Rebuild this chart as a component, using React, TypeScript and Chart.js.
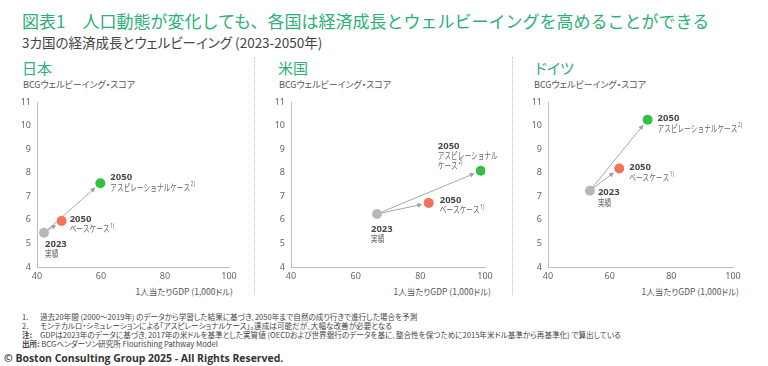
import React, { useEffect, useRef } from 'react';
import { Chart, registerables } from 'chart.js';

Chart.register(...registerables);

// ---------- data ----------
const countries = ['日本', '米国', 'ドイツ'];
const gdp2023 = [42.2, 66.6, 53.6];
const wb2023 = [5.45, 6.25, 7.24];
const gdpBase2050 = [47.7, 82.6, 63.1];
const wbBase2050 = [5.95, 6.72, 8.18];
const gdpAsp2050 = [59.8, 98.7, 72.3];
const wbAsp2050 = [7.55, 8.08, 10.25];
const xTicks = [40, 60, 80, 100];
const yTicks = [4, 5, 6, 7, 8, 9, 10, 11];
const yearActual = '2023';
const yearFuture = '2050';
const nameActual = '実績';
const nameBase = 'ベースケース';
const nameAsp = 'アスピレーショナルケース';
const noteBase = '1)';
const noteAsp = '2)';

// ---------- style / layout ----------
const GREEN_TITLE = '#2BB078';
const C_GRAY = '#b8b8b8';
const C_ORANGE = '#f0735a';
const C_GREEN = '#34bf45';
const FONT = '"Noto Sans CJK JP", "Noto Sans", sans-serif';
const NUMFONT = '"Noto Sans", "Noto Sans CJK JP", sans-serif';

const CANVAS_TOP = 75;
const CANVAS_H = 225;
const panels = [
  { left: 0, width: 254, areaLeft: 37, areaRight: 229, offsets: [[1, 11], [8, -2], [10, -6]], split: false, titleX: 22, yTitleX: 23, xTitleEnd: 233 },
  { left: 256, width: 254, areaLeft: 35, areaRight: 229, offsets: [[-6, 15], [11, -3], [-43, -25]], split: true, titleX: 278, yTitleX: 279, xTitleEnd: 491 },
  { left: 513, width: 255, areaLeft: 35, areaRight: 220, offsets: [[8, 2], [10, -1], [10, -1]], split: false, titleX: 535, yTitleX: 534, xTitleEnd: 739 },
];

const SQUEEZE = 0.7;
const LINE = 9.8;

function drawJp(ctx: CanvasRenderingContext2D, text: string, x: number, y: number, note?: string) {
  ctx.save();
  ctx.font = `9.5px ${FONT}`;
  ctx.fillStyle = '#666';
  ctx.textBaseline = 'middle';
  ctx.textAlign = 'left';
  ctx.translate(x, y);
  ctx.scale(SQUEEZE, 1);
  ctx.fillText(text, 0, 0);
  const w = ctx.measureText(text).width;
  if (note) {
    ctx.font = `6.5px ${NUMFONT}`;
    ctx.fillText(note, w + 1, -3);
  }
  ctx.restore();
}

function drawYear(ctx: CanvasRenderingContext2D, text: string, x: number, y: number) {
  ctx.save();
  ctx.font = `bold 9.5px ${NUMFONT}`;
  ctx.fillStyle = '#4a4a4a';
  ctx.textBaseline = 'middle';
  ctx.textAlign = 'left';
  ctx.fillText(text, x, y);
  ctx.restore();
}

function Panel({ idx }: { idx: number }) {
  const ref = useRef<HTMLCanvasElement | null>(null);
  const p = panels[idx];
  useEffect(() => {
    if (!ref.current) return;
    const pts = [
      { x: gdp2023[idx], y: wb2023[idx] },
      { x: gdpBase2050[idx], y: wbBase2050[idx] },
      { x: gdpAsp2050[idx], y: wbAsp2050[idx] },
    ];
    const arrowPlugin = {
      id: 'arrows',
      beforeDatasetsDraw(chart: any) {
        const { ctx, scales } = chart;
        const sx = scales.x.getPixelForValue(pts[0].x);
        const sy = scales.y.getPixelForValue(pts[0].y);
        for (let k = 1; k < 3; k++) {
          const tx = scales.x.getPixelForValue(pts[k].x);
          const ty = scales.y.getPixelForValue(pts[k].y);
          const dx = tx - sx, dy = ty - sy;
          const len = Math.hypot(dx, dy);
          const ux = dx / len, uy = dy / len;
          const ex = tx - ux * 6.5, ey = ty - uy * 6.5;
          const bx = sx + ux * 3, by = sy + uy * 3;
          ctx.save();
          ctx.strokeStyle = '#a8a8a8';
          ctx.fillStyle = '#a0a0a0';
          ctx.lineWidth = 1;
          ctx.beginPath();
          ctx.moveTo(bx, by);
          ctx.lineTo(ex - ux * 3, ey - uy * 3);
          ctx.stroke();
          const hl = 5, hw = 2.4;
          ctx.beginPath();
          ctx.moveTo(ex, ey);
          ctx.lineTo(ex - ux * hl - uy * hw, ey - uy * hl + ux * hw);
          ctx.lineTo(ex - ux * hl + uy * hw, ey - uy * hl - ux * hw);
          ctx.closePath();
          ctx.fill();
          ctx.restore();
        }
      },
    };
    const labelPlugin = {
      id: 'pointLabels',
      afterDatasetsDraw(chart: any) {
        const { ctx, scales } = chart;
        const pix = pts.map((pt) => [scales.x.getPixelForValue(pt.x), scales.y.getPixelForValue(pt.y)]);
        let [ox, oy] = p.offsets[0];
        drawYear(ctx, yearActual, pix[0][0] + ox, pix[0][1] + oy);
        drawJp(ctx, nameActual, pix[0][0] + ox, pix[0][1] + oy + LINE);
        [ox, oy] = p.offsets[1];
        drawYear(ctx, yearFuture, pix[1][0] + ox, pix[1][1] + oy);
        drawJp(ctx, nameBase, pix[1][0] + ox, pix[1][1] + oy + LINE, noteBase);
        [ox, oy] = p.offsets[2];
        drawYear(ctx, yearFuture, pix[2][0] + ox, pix[2][1] + oy);
        if (p.split) {
          drawJp(ctx, nameAsp.slice(0, 9), pix[2][0] + ox, pix[2][1] + oy + LINE);
          drawJp(ctx, nameAsp.slice(9), pix[2][0] + ox, pix[2][1] + oy + LINE * 2, noteAsp);
        } else {
          drawJp(ctx, nameAsp, pix[2][0] + ox, pix[2][1] + oy + LINE, noteAsp);
        }
      },
    };
    const chart = new Chart(ref.current, {
      type: 'scatter',
      data: {
        datasets: [
          {
            data: pts,
            pointBackgroundColor: [C_GRAY, C_ORANGE, C_GREEN],
            pointBorderWidth: 0,
            pointRadius: 5,
            pointHoverRadius: 5,
          },
        ],
      },
      options: {
        responsive: false,
        animation: false,
        events: [],
        layout: { padding: { left: 0, right: p.width - p.areaRight, top: 27, bottom: 15 } },
        plugins: { legend: { display: false }, tooltip: { enabled: false } },
        scales: {
          x: {
            type: 'linear',
            min: 40,
            max: 100,
            afterBuildTicks: (s: any) => {
              s.ticks = xTicks.map((v) => ({ value: v }));
            },
            afterFit: (s: any) => {
              s.height = 18;
            },
            grid: { display: false, drawTicks: false },
            border: { display: true, color: '#bdbdbd', width: 1 },
            ticks: { font: { size: 9, family: NUMFONT }, color: '#666', padding: 4, maxRotation: 0 },
          },
          y: {
            type: 'linear',
            min: 4,
            max: 11,
            afterBuildTicks: (s: any) => {
              s.ticks = yTicks.map((v) => ({ value: v }));
            },
            afterFit: (s: any) => {
              s.width = p.areaLeft;
            },
            grid: { display: false, drawTicks: false },
            border: { display: true, color: '#bdbdbd', width: 1 },
            ticks: { font: { size: 9, family: NUMFONT }, color: '#666', padding: 6 },
          },
        },
      },
      plugins: [arrowPlugin, labelPlugin],
    } as any);
    return () => chart.destroy();
  }, [idx]);
  return (
    <canvas
      ref={ref}
      width={p.width}
      height={CANVAS_H}
      style={{ position: 'absolute', left: p.left, top: CANVAS_TOP, width: p.width, height: CANVAS_H }}
    />
  );
}

function Txt({ x, cy, size, color, children, bold, right, extra, noPalt }: any) {
  const style: React.CSSProperties = {
    position: 'absolute',
    whiteSpace: 'nowrap',
    lineHeight: 1,
    fontFeatureSettings: noPalt ? 'normal' : '"palt"',
    top: cy - size / 2,
    fontSize: size,
    color,
    fontFamily: FONT,
    fontWeight: bold ? 700 : 400,
    ...(right !== undefined ? { right: 768 - right } : { left: x }),
    ...(extra || {}),
  };
  return <div style={style}>{children}</div>;
}

const footnotes = [
  ['1.', '過去20年間 (2000～2019年) のデータから学習した結果に基づき、2050年まで自然の成り行きで進行した場合を予測'],
  ['2.', 'モンテカルロ・シミュレーションによる「アスピレーショナルケース」。達成は可能だが、大幅な改善が必要となる'],
  ['注:', 'GDPは2023年のデータに基づき、2017年の米ドルを基準とした実質値 (OECDおよび世界銀行のデータを基に、整合性を保つために2015年米ドル基準から再基準化) で算出している'],
];

export default function App() {
  return (
    <div style={{ position: 'absolute', left: 0, top: 0, width: 768, height: 366, background: '#fff', overflow: 'hidden', fontFamily: FONT }}>
      <Txt x={22} cy={20} size={17} color={GREEN_TITLE} noPalt>図表1　人口動態が変化しても、各国は経済成長とウェルビーイングを高めることができる</Txt>
      <Txt x={22} cy={43} size={13.5} color="#444">3カ国の経済成長とウェルビーイング (2023-2050年)</Txt>
      {panels.map((p, i) => (
        <React.Fragment key={i}>
          <Txt x={p.titleX} cy={67} size={15} color={GREEN_TITLE}>{countries[i]}</Txt>
          <Txt x={p.yTitleX} cy={84} size={9} color="#555">BCGウェルビーイング・スコア</Txt>
          <Txt right={p.xTitleEnd} cy={291} size={8.5} color="#555">1人当たりGDP (1,000ドル)</Txt>
          <Panel idx={i} />
        </React.Fragment>
      ))}
      <div style={{ position: 'absolute', left: 254, top: 57, height: 238, borderLeft: '1px dotted #c4c4c4' }} />
      <div style={{ position: 'absolute', left: 512, top: 57, height: 238, borderLeft: '1px dotted #c4c4c4' }} />
      {footnotes.map((f, i) => (
        <React.Fragment key={i}>
          <Txt x={22} cy={317 + i * 9} size={7.5} color="#444" bold={i === 2}>{f[0]}</Txt>
          <Txt x={40} cy={317 + i * 9} size={7.6} color="#444">{f[1]}</Txt>
        </React.Fragment>
      ))}
      <Txt x={22} cy={344} size={7.6} color="#444">
        <b>出所:</b> BCGヘンダーソン研究所 Flourishing Pathway Model
      </Txt>
      <Txt x={4} cy={357} size={11} color="#333" bold extra={{ fontFamily: '"Open Sans", sans-serif', transform: 'scaleX(0.95)', transformOrigin: 'left center' }}>
        © Boston Consulting Group 2025 - All Rights Reserved.
      </Txt>
    </div>
  );
}
